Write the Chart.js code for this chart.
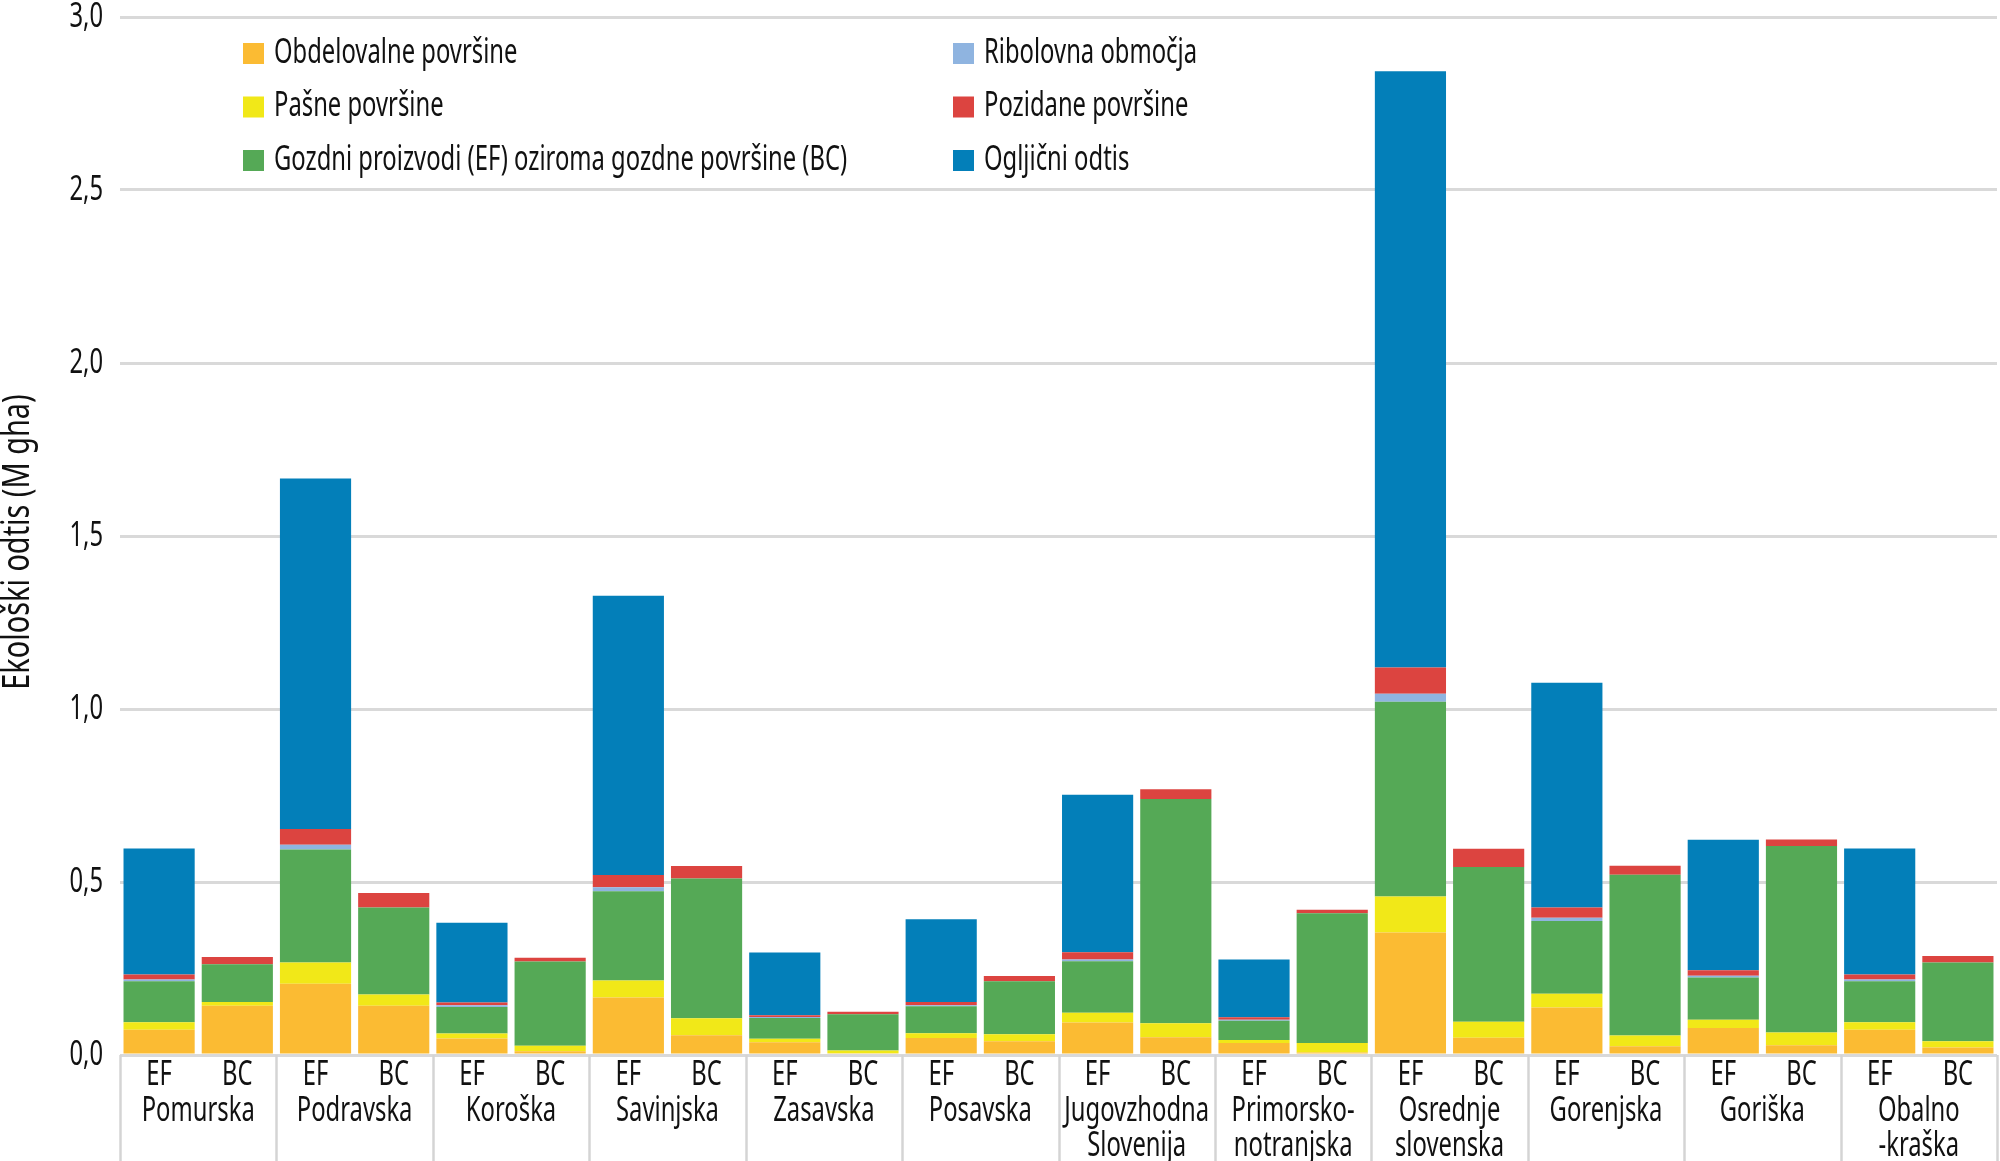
<!DOCTYPE html>
<html lang="sl">
<head>
<meta charset="utf-8">
<script src="https://cdn.jsdelivr.net/npm/chart.js"></script>
<style>
  html, body { margin: 0; padding: 0; background: #fff; }
  .wrap { width: 2000px; height: 1161px; position: relative; }
</style>
</head>
<body>
<div class="wrap"><canvas id="chart"></canvas></div>
<script>
// regions (two bars each: EF = ekološki odtis, BC = biološka zmogljivost)
const regions = [
  ['Pomurska'], ['Podravska'], ['Koroška'], ['Savinjska'], ['Zasavska'], ['Posavska'],
  ['Jugovzhodna', 'Slovenija'], ['Primorsko-', 'notranjska'], ['Osrednje', 'slovenska'],
  ['Gorenjska'], ['Goriška'], ['Obalno', '-kraška']
];
const barLabels = regions.flatMap(() => ['EF', 'BC']);

// values in M gha, order: Pomurska EF, BC, Podravska EF, BC, ...
const obdelovalne = [0.073, 0.142, 0.206, 0.142, 0.048, 0.011, 0.166, 0.057, 0.037, 0.005, 0.049, 0.040,
                     0.094, 0.051, 0.035, 0.007, 0.354, 0.050, 0.137, 0.025, 0.078, 0.028, 0.073, 0.022];
const pasne       = [0.022, 0.011, 0.061, 0.033, 0.014, 0.016, 0.049, 0.049, 0.010, 0.008, 0.014, 0.020,
                     0.028, 0.041, 0.008, 0.028, 0.104, 0.046, 0.040, 0.031, 0.024, 0.037, 0.022, 0.018];
const gozdni      = [0.118, 0.109, 0.327, 0.251, 0.077, 0.243, 0.258, 0.404, 0.060, 0.105, 0.078, 0.153,
                     0.149, 0.648, 0.056, 0.375, 0.563, 0.447, 0.210, 0.465, 0.122, 0.539, 0.118, 0.227];
const ribolovna   = [0.005, 0, 0.014, 0, 0.005, 0, 0.012, 0, 0.003, 0, 0.003, 0,
                     0.005, 0, 0.003, 0, 0.023, 0, 0.010, 0, 0.005, 0, 0.005, 0];
const pozidane    = [0.015, 0.021, 0.045, 0.042, 0.008, 0.011, 0.035, 0.036, 0.005, 0.007, 0.009, 0.015,
                     0.021, 0.028, 0.007, 0.010, 0.076, 0.053, 0.029, 0.026, 0.016, 0.019, 0.015, 0.019];
const ogljicni    = [0.364, 0, 1.013, 0, 0.230, 0, 0.807, 0, 0.181, 0, 0.239, 0,
                     0.455, 0, 0.167, 0, 1.723, 0, 0.650, 0, 0.377, 0, 0.364, 0];

const yTicks = [0, 0.5, 1.0, 1.5, 2.0, 2.5, 3.0];
const yTitle = 'Ekološki odtis (M gha)';

// the original uses a condensed face; squeeze a normal one horizontally
const FACE = '"Noto Sans", "DejaVu Sans", sans-serif';
const FONT = '35px ' + FACE;
const TITLE_FONT = '38px ' + FACE;

function say(ctx, text, x, y, align, sx = 0.68) {
  ctx.save();
  ctx.translate(x, y);
  ctx.scale(sx, 1);
  ctx.textAlign = align;
  ctx.fillText(text, 0, 0);
  ctx.restore();
}

function ds(label, data, color) {
  return { label, data, backgroundColor: color, borderWidth: 0,
           categoryPercentage: 1.0, barPercentage: 0.91 };
}

// tick labels, axis title, region names and group separators
const axisText = {
  id: 'axisText',
  afterDraw(chart) {
    const { ctx, chartArea, scales: { x, y } } = chart;
    ctx.save();
    ctx.strokeStyle = '#d4d4d4';
    ctx.lineWidth = 2.5;
    const edges = [chartArea.left];
    for (let g = 0; g < regions.length - 1; g++) {
      edges.push((x.getPixelForValue(2 * g + 1) + x.getPixelForValue(2 * g + 2)) / 2);
    }
    edges.push(chartArea.right);
    edges.forEach(px => {
      ctx.beginPath();
      ctx.moveTo(Math.round(px) + 0.5, chartArea.bottom);
      ctx.lineTo(Math.round(px) + 0.5, chart.height);
      ctx.stroke();
    });

    ctx.fillStyle = '#111';
    ctx.font = FONT;
    ctx.textBaseline = 'middle';
    yTicks.forEach(v => say(ctx, v.toFixed(1).replace('.', ','), 103, y.getPixelForValue(v), 'right'));
    barLabels.forEach((t, i) => say(ctx, t, x.getPixelForValue(i), 1075, 'center'));
    regions.forEach((lines, g) => {
      const cx = (x.getPixelForValue(2 * g) + x.getPixelForValue(2 * g + 1)) / 2;
      lines.forEach((t, i) => say(ctx, t, cx, 1111 + i * 35, 'center'));
    });

    ctx.font = TITLE_FONT;
    ctx.save();
    ctx.translate(18, (chartArea.top + chartArea.bottom) / 2 + 6);
    ctx.rotate(-Math.PI / 2);
    say(ctx, yTitle, 0, 0, 'center', 0.76);
    ctx.restore();
    ctx.restore();
  }
};

// two-column legend inside the plot, top left
const boxLegend = {
  id: 'boxLegend',
  afterDraw(chart) {
    const { ctx } = chart;
    ctx.save();
    ctx.font = FONT;
    ctx.textBaseline = 'middle';
    chart.data.datasets.forEach((d, i) => {
      const col = Math.floor(i / 3), row = i % 3;
      const sx = col === 0 ? 243 : 953;
      const cy = 53 + row * 53.5;
      ctx.fillStyle = d.backgroundColor;
      ctx.fillRect(sx, cy - 10, 21, 21);
      ctx.fillStyle = '#111';
      say(ctx, d.label, sx + 31, cy, 'left');
    });
    ctx.restore();
  }
};

new Chart(document.getElementById('chart'), {
  type: 'bar',
  data: {
    labels: barLabels,
    datasets: [
      ds('Obdelovalne površine', obdelovalne, '#fbbb33'),
      ds('Pašne površine', pasne, '#f1e818'),
      ds('Gozdni proizvodi (EF) oziroma gozdne površine (BC)', gozdni, '#55a956'),
      ds('Ribolovna območja', ribolovna, '#8fb4e0'),
      ds('Pozidane površine', pozidane, '#dc4440'),
      ds('Ogljični odtis', ogljicni, '#037fb9')
    ]
  },
  options: {
    responsive: true,
    maintainAspectRatio: false,
    devicePixelRatio: 1,
    animation: false,
    layout: { padding: { top: 17, right: 3, left: 0, bottom: 0 } },
    plugins: { legend: { display: false }, tooltip: { enabled: false } },
    scales: {
      x: {
        stacked: true,
        grid: { display: false, drawTicks: false },
        border: { display: false },
        ticks: { display: false },
        afterFit: s => { s.height = 106; }
      },
      y: {
        stacked: true,
        min: 0, max: 3,
        afterBuildTicks: s => { s.ticks = yTicks.map(v => ({ value: v })); },
        ticks: { display: false },
        grid: { color: '#d9d9d9', lineWidth: 3, drawTicks: false },
        border: { display: false },
        afterFit: s => { s.width = 120; }
      }
    }
  },
  plugins: [axisText, boxLegend]
});
</script>
</body>
</html>
